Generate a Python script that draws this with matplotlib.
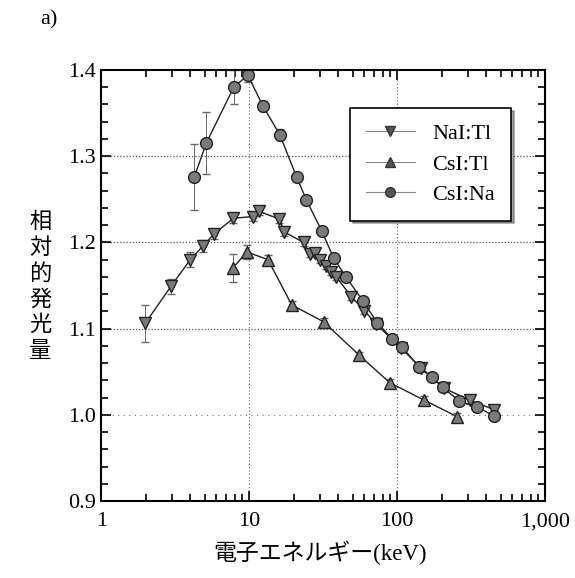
import numpy as np
import matplotlib.pyplot as plt
from matplotlib.ticker import FixedLocator, NullFormatter, MultipleLocator

plt.rcParams['font.family'] = ['Liberation Serif', 'Noto Sans CJK JP']

# NaI:Tl
nai_x = [1.98, 2.96, 4.0, 4.88, 5.8, 7.83, 10.6, 11.7, 16.0, 17.3, 23.3, 25.6, 27.7,
         30.3, 32.9, 35.9, 38.8, 49.1, 60.0, 72.4, 107, 146, 207, 310, 453]
nai_y = [1.106, 1.149, 1.180, 1.196, 1.210, 1.228, 1.230, 1.236, 1.227, 1.212, 1.200,
         1.187, 1.188, 1.180, 1.173, 1.166, 1.160, 1.137, 1.121, 1.105, 1.077, 1.054,
         1.031, 1.017, 1.006]
nai_err = [0.021, 0.009, 0.009, 0.007, 0.006, 0.006, 0.005, 0.004, 0.004, 0.004, 0.004,
           0.004, 0.004, 0.004, 0.004, 0.004, 0.004, 0.004, 0.004, 0.004, 0.004, 0.004,
           0.004, 0.004, 0.004]

# CsI:Tl
cstl_x = [7.74, 9.63, 13.4, 19.4, 31.8, 55.2, 89.1, 151, 254]
cstl_y = [1.170, 1.189, 1.180, 1.1275, 1.108, 1.0695, 1.0374, 1.0174, 0.998]
cstl_err = [0.016, 0.008, 0.005, 0.005, 0.004, 0.004, 0.004, 0.004, 0.004]

# CsI:Na
csna_x = [4.26, 5.14, 7.87, 9.8, 12.4, 16.1, 20.9, 24.4, 31.0, 37.2, 45.1, 58.8, 73.1,
          92.9, 107.5, 140, 171, 204, 262, 344, 449]
csna_y = [1.276, 1.3155, 1.380, 1.394, 1.358, 1.325, 1.276, 1.249, 1.213, 1.182, 1.160,
          1.132, 1.107, 1.088, 1.079, 1.056, 1.044, 1.032, 1.016, 1.0096, 0.999]
csna_err = [0.038, 0.036, 0.020, 0.008, 0.006, 0.006, 0.005, 0.005, 0.004, 0.004, 0.004,
            0.004, 0.004, 0.004, 0.004, 0.004, 0.004, 0.004, 0.004, 0.004, 0.004]

xticks = [1, 10, 100, 1000]
xticklabels = ['1', '10', '100', '1,000']
yticks = [0.9, 1.0, 1.1, 1.2, 1.3, 1.4]

fig = plt.figure(figsize=(5.75, 5.78), dpi=100)
ax = fig.add_axes([0.176, 0.133, 0.772, 0.746])

# dotted grid
for yy in [1.1, 1.2, 1.3]:
    ax.axhline(yy, color='#555555', lw=0.9, ls=(0, (1, 1.5)), zorder=0)
ax.axhline(1.0, color='#777777', lw=0.8, ls=(0, (1, 4)), zorder=0)
for xx in [10, 100]:
    ax.axvline(xx, color='#666666', lw=0.8, ls=(0, (1, 2)), zorder=0)

ms = 8.5
mfc = '#7a7a7a'
ebk = dict(ecolor='#666666', elinewidth=0.7, capsize=3, capthick=0.7)

ax.errorbar(nai_x, nai_y, yerr=nai_err, fmt='-', color='#222222', lw=1.0,
            marker='v', ms=ms, mfc=mfc, mec='#222222', mew=1.0, **ebk)
ax.errorbar(cstl_x, cstl_y, yerr=cstl_err, fmt='-', color='#222222', lw=1.0,
            marker='^', ms=ms, mfc=mfc, mec='#222222', mew=1.0, **ebk)
ax.errorbar(csna_x, csna_y, yerr=csna_err, fmt='-', color='#222222', lw=1.0,
            marker='o', ms=ms, mfc=mfc, mec='#222222', mew=1.0, **ebk)

ax.set_xscale('log')
ax.set_xlim(1, 1000)
ax.set_ylim(0.9, 1.4)
ax.xaxis.set_major_locator(FixedLocator(xticks))
ax.set_xticklabels(xticklabels)
ax.xaxis.set_minor_formatter(NullFormatter())
ax.set_yticks(yticks)
ax.set_yticklabels(['%.1f' % v for v in yticks])
ax.yaxis.set_minor_locator(MultipleLocator(0.02))
ax.tick_params(which='both', direction='in', top=True, right=True, labelsize=16,
               width=1.2)
ax.tick_params(which='major', length=7)
ax.tick_params(which='minor', length=5)
ax.tick_params(axis='x', pad=8)
for s in ax.spines.values():
    s.set_linewidth(1.5)

# legend
h1, = ax.plot([], [], color='#888888', lw=0.8, marker='v', ms=7, mfc='#555555', mec='#333333')
h2, = ax.plot([], [], color='#888888', lw=0.8, marker='^', ms=7, mfc='#555555', mec='#333333')
h3, = ax.plot([], [], color='#888888', lw=0.8, marker='o', ms=7, mfc='#555555', mec='#333333')
leg = ax.legend([h1, h2, h3], ['NaI:Tl', 'CsI:Tl', 'CsI:Na'], loc='upper left',
                bbox_to_anchor=(0.561, 0.912), borderaxespad=0, fontsize=16,
                frameon=True, fancybox=False, shadow=True, edgecolor='black',
                handlelength=2.2, borderpad=0.7, labelspacing=0.45)
leg.get_frame().set_linewidth(1.2)

fig.text(0.07, 0.965, 'a)', fontsize=16, ha='left', va='center')
fig.text(0.07, 0.505, '\n'.join('相対的発光量'), fontsize=16, ha='center', va='center',
         family=['Noto Sans CJK JP'], linespacing=1.15)
fig.text(0.557, 0.043, '電子エネルギー(keV)', fontsize=16.5, ha='center', va='center',
         family=['Liberation Serif', 'Noto Sans CJK JP'])

fig.savefig('out.png', dpi=100)
